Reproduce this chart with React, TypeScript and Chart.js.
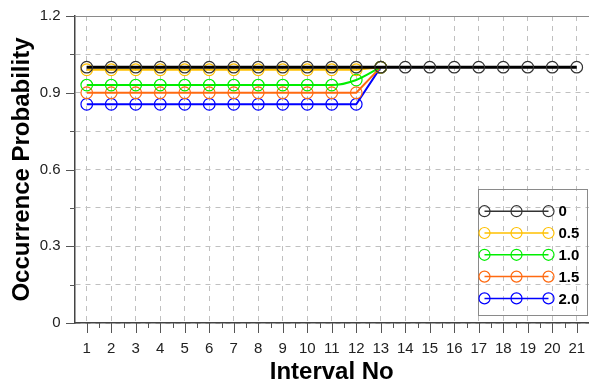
import React, { useEffect, useRef } from "react";
import { Chart, registerables } from "chart.js";

Chart.register(...registerables);

const intervals = [1, 2, 3, 4, 5, 6, 7, 8, 9, 10, 11, 12, 13, 14, 15, 16, 17, 18, 19, 20, 21];
const seriesLabels = ["0", "0.5", "1.0", "1.5", "2.0"];
const seriesColors = ["#000000", "#ffc000", "#00ee00", "#ff6a10", "#0000ff"];
const series0 = [1, 1, 1, 1, 1, 1, 1, 1, 1, 1, 1, 1, 1, 1, 1, 1, 1, 1, 1, 1, 1];
const series05 = [0.99, 0.99, 0.99, 0.99, 0.99, 0.99, 0.99, 0.99, 0.99, 0.99, 0.99, 0.99, 1.0];
const series10 = [0.93, 0.93, 0.93, 0.93, 0.93, 0.93, 0.93, 0.93, 0.93, 0.93, 0.93, 0.95, 1.0];
const series15 = [0.9, 0.9, 0.9, 0.9, 0.9, 0.9, 0.9, 0.9, 0.9, 0.9, 0.9, 0.9, 1.0];
const series20 = [0.855, 0.855, 0.855, 0.855, 0.855, 0.855, 0.855, 0.855, 0.855, 0.855, 0.855, 0.855, 1.0];
const yTickValues = [0, 0.15, 0.3, 0.45, 0.6, 0.75, 0.9, 1.05, 1.2];
const yTickLabels = ["0", "", "0.3", "", "0.6", "", "0.9", "", "1.2"];
const xTickLabels = ["1", "2", "3", "4", "5", "6", "7", "8", "9", "10", "11", "12", "13", "14", "15", "16", "17", "18", "19", "20", "21"];

const FONT = "'Liberation Sans', Arial, Helvetica, sans-serif";

const allSeries = [series0, series05, series10, series15, series20];

const decorPlugin = {
  id: "decor",
  afterDraw(chart: any) {
    const { ctx, chartArea: ca, scales } = chart;
    const x = scales.x;
    const y = scales.y;
    ctx.save();
    ctx.strokeStyle = "#8a8a8a";
    ctx.lineWidth = 1;
    ctx.setLineDash([]);
    ctx.beginPath();
    ctx.moveTo(ca.left, Math.round(ca.top) + 0.5);
    ctx.lineTo(ca.right, Math.round(ca.top) + 0.5);
    ctx.stroke();

    ctx.strokeStyle = "#555555";
    ctx.lineWidth = 1;
    const bottom = Math.round(ca.bottom);
    intervals.forEach((v) => {
      const px = Math.round(x.getPixelForValue(v)) + 0.5;
      ctx.beginPath();
      ctx.moveTo(px, bottom);
      ctx.lineTo(px, bottom + 10);
      ctx.stroke();
      const half = v + 0.5;
      if (half < x.max) {
        const ph = Math.round(x.getPixelForValue(half)) + 0.5;
        ctx.beginPath();
        ctx.moveTo(ph, bottom);
        ctx.lineTo(ph, bottom + 5);
        ctx.stroke();
      }
    });
    const left = Math.round(ca.left);
    yTickValues.forEach((v, i) => {
      const py = Math.round(y.getPixelForValue(v)) + 0.5;
      const len = yTickLabels[i] ? 9 : 5;
      ctx.beginPath();
      ctx.moveTo(left - len, py);
      ctx.lineTo(left, py);
      ctx.stroke();
    });

    const bx = Math.round(ca.right) - 110.5;
    const by = Math.round(ca.bottom) - 133.5;
    ctx.strokeStyle = "#8a8a8a";
    ctx.lineWidth = 1;
    ctx.strokeRect(bx, by, 109, 126);
    chart.data.datasets.forEach((ds: any, i: number) => {
      const ly = by + 21.7 + i * 21.8;
      ctx.strokeStyle = i === 0 ? "#333333" : ds.borderColor;
      ctx.lineWidth = 1.5;
      ctx.beginPath();
      ctx.moveTo(bx + 6, ly);
      ctx.lineTo(bx + 70, ly);
      ctx.stroke();
      ctx.lineWidth = 1.2;
      [6, 38, 70].forEach((dx) => {
        ctx.beginPath();
        ctx.arc(bx + dx, ly, 5.5, 0, Math.PI * 2);
        ctx.stroke();
      });
      ctx.fillStyle = "#000000";
      ctx.font = `bold 15px ${FONT}`;
      ctx.textBaseline = "middle";
      ctx.textAlign = "left";
      ctx.fillText(ds.label, bx + 80, ly + 1);
    });
    ctx.restore();
  },
};

export default function App() {
  const ref = useRef<HTMLCanvasElement | null>(null);
  useEffect(() => {
    if (!ref.current) return;
    const datasets = allSeries.map((s, i) => ({
      label: seriesLabels[i],
      data: s.map((v, j) => ({ x: intervals[j], y: v })),
      borderColor: seriesColors[i],
      backgroundColor: "transparent",
      borderWidth: i === 0 ? 3 : 2,
      pointRadius: 5.8,
      pointBorderWidth: 1.2,
      pointBorderColor: i === 0 ? "#333333" : seriesColors[i],
      pointBackgroundColor: "rgba(0,0,0,0)",
      pointStyle: "circle",
      fill: false,
      tension: 0,
      cubicInterpolationMode: i === 2 ? "monotone" : "default",
    }));
    const chart = new Chart(ref.current, {
      type: "line",
      data: { datasets } as any,
      plugins: [decorPlugin],
      options: {
        animation: false,
        responsive: false,
        maintainAspectRatio: false,
        layout: { autoPadding: false, padding: { left: 0, top: 16, right: 0, bottom: 0 } },
        plugins: { legend: { display: false }, tooltip: { enabled: false }, title: { display: false } },
        scales: {
          x: {
            type: "linear",
            min: 0.5,
            max: 21.5,
            afterBuildTicks: (scale: any) => {
              scale.ticks = intervals.map((v) => ({ value: v }));
            },
            afterFit: (scale: any) => {
              scale.height = 64;
              scale.paddingLeft = 0;
              scale.paddingRight = 0;
            },
            ticks: {
              autoSkip: false,
              maxRotation: 0,
              padding: 17,
              color: "#222222",
              font: { family: FONT, size: 15 },
              callback: (_v: any, i: number) => xTickLabels[i],
            },
            grid: {
              drawTicks: false,
              color: "#c0c0c0",
              lineWidth: 1,
            },
            border: { display: true, color: "#444444", width: 1.5, dash: [5, 5] },
            title: {
              display: true,
              text: "Interval No",
              font: { family: FONT, size: 24, weight: "bold" },
              color: "#000000",
              padding: { top: 0, bottom: 0 },
            },
          },
          y: {
            type: "linear",
            min: 0,
            max: 1.2,
            afterBuildTicks: (scale: any) => {
              scale.ticks = yTickValues.map((v) => ({ value: v }));
            },
            afterFit: (scale: any) => {
              scale.width = 74.5;
              scale.paddingTop = 0;
              scale.paddingBottom = 0;
            },
            ticks: {
              autoSkip: false,
              padding: 14,
              color: "#222222",
              font: { family: FONT, size: 15 },
              callback: (_v: any, i: number) => yTickLabels[i],
            },
            grid: {
              drawTicks: false,
              color: "#c0c0c0",
              lineWidth: 1,
            },
            border: { display: true, color: "#444444", width: 1.5, dash: [5, 5] },
            title: {
              display: true,
              text: "Occurrence Probability",
              font: { family: FONT, size: 24, weight: "bold" },
              color: "#000000",
              padding: { top: 8, bottom: 0 },
            },
          },
        },
      } as any,
    });
    return () => chart.destroy();
  }, []);
  return (
    <div style={{ position: "absolute", left: 0, top: 0, width: 589, height: 387 }}>
      <canvas ref={ref} width={589} height={387} style={{ width: 589, height: 387 }} />
    </div>
  );
}
